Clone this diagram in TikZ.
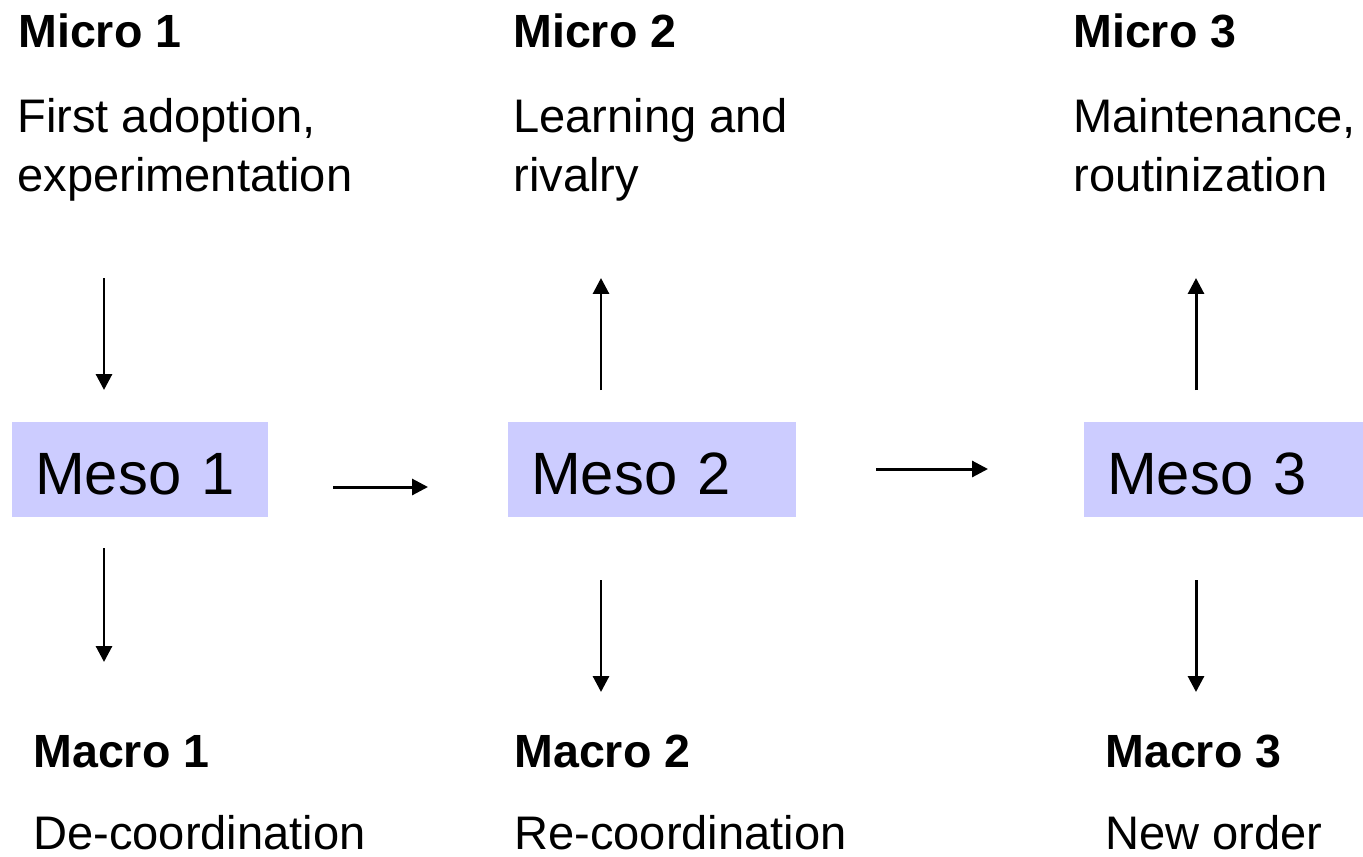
\documentclass[tikz,border=0pt]{standalone}
\usepackage{fontspec}
\setmainfont{Liberation Sans}
\usetikzlibrary{positioning,arrows.meta}
\definecolor{mesoblue}{RGB}{204,204,255}

\begin{document}
\begin{tikzpicture}[x=0.02cm, y=-0.02cm,
  every node/.style = {inner sep=0pt, anchor=base west},
  title/.style = {font=\fontsize{26.5}{31}\selectfont\bfseries},
  body/.style = {align=left, font=\fontsize{26.8}{33.5}\selectfont},
  meso/.style = {fill=mesoblue, anchor=north west, inner xsep=13pt,
	minimum height=1.9cm, text height=28pt, text depth=0pt,
	align=left, font=\fontsize{34}{41}\selectfont},
  arr/.style = {-{Triangle[length=9pt,width=9pt]}, line width=1.7pt}]

\useasboundingbox (0,0) rectangle (1363,856);

% micro level
\node[title] (micro1) at (18,47) {Micro 1};
\node[title] (micro2) at (513,47) {Micro 2};
\node[title] (micro3) at (1073,47) {Micro 3};
% (base of a two line node is its last line)
\node[body] (micro1txt) at (17,191) {First adoption,\\experimentation};
\node[body] (micro2txt) at (513,191) {Learning and\\rivalry};
\node[body] (micro3txt) at (1073,191) {Maintenance,\\routinization};

% meso level
\node[meso, text width=4.2cm] (meso1) at (12,422) {Meso 1};
\node[meso, text width=4.84cm] (meso2) at (508,422) {Meso 2};
\node[meso, text width=4.66cm] (meso3) at (1084,422) {Meso 3};

% macro level
\node[title] (macro1) at (33,767) {Macro 1};
\node[title] (macro2) at (514,767) {Macro 2};
\node[title] (macro3) at (1105,767) {Macro 3};
\node[body, text depth=0pt] (macro1txt) at (33,849) {De-coordination};
\node[body, text depth=0pt] (macro2txt) at (514,849) {Re-coordination};
\node[body, text depth=0pt] (macro3txt) at (1105,849) {New order};

% arrow ends
\coordinate (d1a) at (104,278);  \coordinate (d1b) at (104,390);
\coordinate (d2a) at (104,548);  \coordinate (d2b) at (104,662);
\coordinate (u2a) at (601,390);  \coordinate (u2b) at (601,278);
\coordinate (d3a) at (601,580);  \coordinate (d3b) at (601,692);
\coordinate (u3a) at (1196,390); \coordinate (u3b) at (1196,278);
\coordinate (d4a) at (1196,580); \coordinate (d4b) at (1196,692);
\coordinate (h1a) at (333,487);  \coordinate (h1b) at (428,487);
\coordinate (h2a) at (876,469);  \coordinate (h2b) at (988,469);

\draw[arr] (d1a) -- (d1b);
\draw[arr] (d2a) -- (d2b);
\draw[arr] (u2a) -- (u2b);
\draw[arr] (d3a) -- (d3b);
\draw[arr] (u3a) -- (u3b);
\draw[arr] (d4a) -- (d4b);
\draw[arr] (h1a) -- (h1b);
\draw[arr] (h2a) -- (h2b);
\end{tikzpicture}
\end{document}
